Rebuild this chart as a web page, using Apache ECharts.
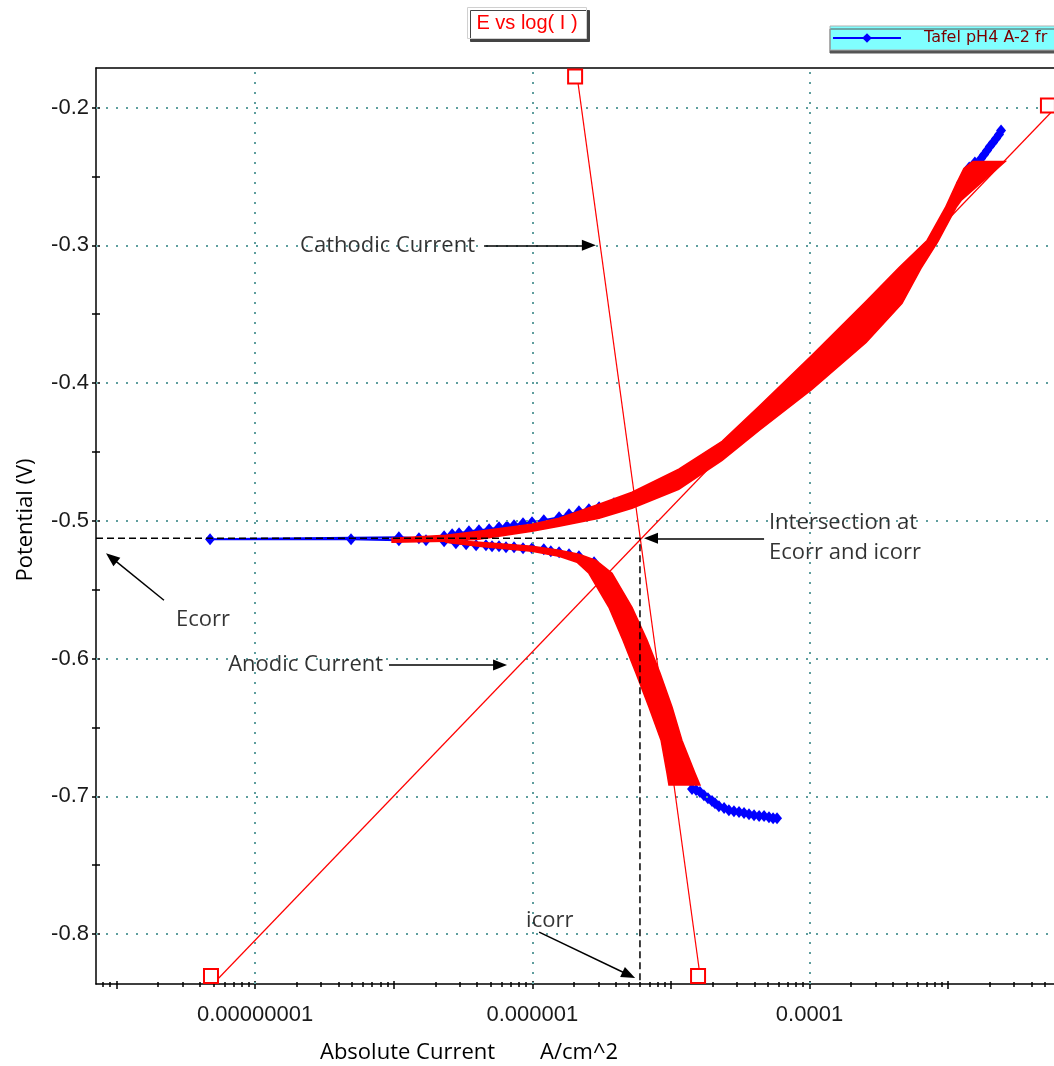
<!DOCTYPE html>
<html><head><meta charset="utf-8">
<script src="https://cdn.jsdelivr.net/npm/echarts@6/dist/echarts.min.js"></script>
<style>html,body{margin:0;padding:0;background:#fff}#c{width:1054px;height:1066px}</style>
</head><body><div id="c"></div><script>
// ---------- data (current in A/cm^2, potential in V) ----------
const scanCurrent = [5.83e-5,5.46e-5,5.10e-5,4.70e-5,4.33e-5,3.98e-5,3.66e-5,3.37e-5,3.10e-5,2.85e-5,2.62e-5,2.42e-5,2.22e-5,2.08e-5,1.98e-5,1.85e-5,1.73e-5,1.62e-5,1.52e-5,1.42e-5,
  1.29e-5,1.04e-5,8.77e-6,7.18e-6,5.80e-6,4.51e-6,3.82e-6,3.18e-6,2.79e-6,2.17e-6,1.84e-6,1.56e-6,1.36e-6,1.21e-6,9.95e-7,8.57e-7,7.38e-7,6.46e-7,5.75e-7,5.12e-7,4.63e-7,3.93e-7,3.33e-7,2.81e-7,2.31e-7,1.71e-7,1.09e-7,4.92e-8,4.73e-9,
  1.09e-7,1.52e-7,2.31e-7,2.64e-7,2.96e-7,3.49e-7,4.12e-7,4.88e-7,5.75e-7,6.56e-7,7.38e-7,8.57e-7,9.95e-7,1.21e-6,1.56e-6,1.84e-6,2.17e-6,2.56e-6,3.03e-6,3.88e-6,5.42e-6,8.20e-6,1.18e-5,2.42e-5,4.47e-5,1.08e-4,2.69e-4,4.81e-4,7.54e-4,1.03e-3,1.24e-3,1.42e-3,1.56e-3,1.73e-3,1.82e-3,1.91e-3,2.00e-3,2.11e-3,2.22e-3,2.33e-3,2.41e-3];
const scanPotential = [-0.7159,-0.7159,-0.7152,-0.7144,-0.7144,-0.7137,-0.7130,-0.7122,-0.7115,-0.7108,-0.7101,-0.7086,-0.7072,-0.7050,-0.7035,-0.7014,-0.6992,-0.6970,-0.6955,-0.6948,
  -0.6832,-0.6593,-0.6353,-0.6106,-0.5867,-0.5628,-0.5504,-0.5381,-0.5301,-0.5258,-0.5243,-0.5229,-0.5221,-0.5207,-0.5200,-0.5200,-0.5192,-0.5192,-0.5185,-0.5185,-0.5178,-0.5178,-0.5171,-0.5163,-0.5149,-0.5142,-0.5142,-0.5134,-0.5134,
  -0.5120,-0.5127,-0.5113,-0.5098,-0.5091,-0.5076,-0.5069,-0.5062,-0.5047,-0.5040,-0.5033,-0.5018,-0.5011,-0.4996,-0.4975,-0.4953,-0.4931,-0.4916,-0.4902,-0.4873,-0.4837,-0.4757,-0.4677,-0.4474,-0.4227,-0.3865,-0.3473,-0.3219,-0.2994,-0.2726,-0.2544,-0.2435,-0.2399,-0.2370,-0.2341,-0.2312,-0.2283,-0.2254,-0.2225,-0.2196,-0.2167];

// red highlighted band, anodic-potential branch (outline)
const bandUpperCurrent = [9.73e-8,2.38e-7,4.12e-7,9.95e-7,1.56e-6,3.03e-6,5.24e-6,1.14e-5,2.34e-5,4.33e-5,1.04e-4,2.56e-4,4.43e-4,7.05e-4,9.66e-4,1.14e-3,1.30e-3,1.51e-3,
  2.58e-3,1.24e-3,1.14e-3,8.45e-4,6.37e-4,4.65e-4,2.56e-4,1.04e-4,4.33e-5,2.34e-5,1.14e-5,5.24e-6,3.03e-6,1.56e-6,9.95e-7,4.12e-7,2.38e-7,9.73e-8];
const bandUpperPotential = [-0.5127,-0.5105,-0.5076,-0.5025,-0.4982,-0.4880,-0.4793,-0.4626,-0.4423,-0.4169,-0.3799,-0.3407,-0.3161,-0.2965,-0.2718,-0.2559,-0.2443,-0.2392,
  -0.2392,-0.2675,-0.2726,-0.2972,-0.3168,-0.3422,-0.3705,-0.4046,-0.4344,-0.4561,-0.4771,-0.4909,-0.4982,-0.5040,-0.5076,-0.5134,-0.5149,-0.5156];
// red highlighted band, cathodic-potential branch (outline)
const bandLowerCurrent = [2.38e-7,4.12e-7,9.95e-7,1.56e-6,2.10e-6,2.56e-6,3.57e-6,4.51e-6,5.60e-6,6.95e-6,8.49e-6,9.37e-6,9.68e-6,
  1.62e-5,1.49e-5,1.20e-5,1.02e-5,8.34e-6,6.73e-6,5.24e-6,3.76e-6,2.88e-6,2.17e-6,1.56e-6,9.95e-7,4.12e-7,2.38e-7];
const bandLowerPotential = [-0.5156,-0.5185,-0.5221,-0.5258,-0.5301,-0.5381,-0.5628,-0.5867,-0.6106,-0.6353,-0.6593,-0.6832,-0.6919,
  -0.6919,-0.6832,-0.6593,-0.6353,-0.6106,-0.5867,-0.5628,-0.5381,-0.5287,-0.5243,-0.5214,-0.5185,-0.5156,-0.5142];

// Tafel fit lines
const anodicFitCurrent = [5.05e-9, 5.52e-3];
const anodicFitPotential = [-0.8356, -0.2036];
const cathodicFitCurrent = [2.14e-6, 1.65e-5];
const cathodicFitPotential = [-0.1826, -0.8356];

// corrosion point
const ECORR = -0.5127;
const ICORR = 5.98e-6;

// annotations
const annoText = ['Cathodic Current','Anodic Current','Intersection at\nEcorr and icorr','Ecorr','icorr'];
const annoCurrent = [3.86e-7, 8.38e-8, 5.10e-5, 2.69e-9, 9.02e-7];
const annoPotential = [-0.300, -0.6048, -0.5120, -0.5722, -0.7906];
const annoAlign = ['right','right','left','left','left'];
const arrowFromCurrent = [4.49e-7, 4.70e-5, 2.20e-9, 9.25e-8, 1.12e-6];
const arrowFromPotential = [-0.300, -0.5127, -0.5577, -0.6048, -0.7986];
const arrowToCurrent = [2.56e-6, 7.18e-6, 9.19e-10, 5.85e-7, 4.97e-6];
const arrowToPotential = [-0.300, -0.5127, -0.5268, -0.6048, -0.8298];

// ticks
const xLabelCurrents = [1e-8, 1e-6, 1e-4];
const xLabelTexts = ['0.00000001','0.000001','0.0001'];
const yLabelValues = [-0.8,-0.7,-0.6,-0.5,-0.4,-0.3,-0.2];
const yTickValues = [-0.8,-0.75,-0.7,-0.65,-0.6,-0.55,-0.5,-0.45,-0.4,-0.35,-0.3,-0.25,-0.2];

// ---------- chart ----------
const LMIN = -9.148, LMAX = -2.236;
const EMIN = -0.8363, EMAX = -0.1713;
const lg = v => Math.log10(v);
const pairs = (I, E) => I.map((v, i) => [lg(v), E[i]]);

const majorDec = [-9,-8,-7,-6,-5,-4,-3];
const minorDec = [];
for (let n = -10; n <= -3; n++) for (let k = 2; k <= 9; k++) {
  const v = n + Math.log10(k);
  if (v > LMIN && v < LMAX) minorDec.push(v);
}
const xLabelLogs = xLabelCurrents.map(lg);
const xFmt = v => { const i = xLabelLogs.findIndex(t => Math.abs(t - v) < 1e-6); return i >= 0 ? xLabelTexts[i] : ''; };

const tickFont = { fontFamily: "'Liberation Sans', Arial, sans-serif", fontSize: 22, color: '#1a1a1a' };
const annoFont = "'Open Sans', 'DejaVu Sans', sans-serif";
const black = { color: '#000', width: 1.5 };

function xAx(extra) {
  return Object.assign({ type: 'value', min: LMIN, max: LMAX, position: 'bottom',
    axisLine: { show: false, onZero: false }, axisLabel: { show: false }, splitLine: { show: false } }, extra);
}
function yAx(extra) {
  return Object.assign({ type: 'value', min: EMIN, max: EMAX, position: 'left',
    axisLine: { show: false, onZero: false }, axisLabel: { show: false }, splitLine: { show: false } }, extra);
}

function band(name, I, E) {
  const data = pairs(I, E);
  return { type: 'custom', name, xAxisIndex: 0, yAxisIndex: 0, z: 6, silent: true, clip: true,
    data, encode: { x: 0, y: 1 },
    renderItem: (params, api) => {
      if (params.dataIndex !== 0) return null;
      return { type: 'polygon', shape: { points: data.map(p => api.coord(p)) },
        style: { fill: '#ff0000', stroke: '#ff0000', lineWidth: 1.5 } };
    } };
}
function fitLine(name, I, E) {
  return { type: 'line', name, data: pairs(I, E), z: 8, silent: true,
    symbol: 'emptyRect', symbolSize: 14, symbolOffset: [-3, -7], showSymbol: true,
    lineStyle: { color: '#ff0000', width: 1.2 }, itemStyle: { color: '#ff0000', borderWidth: 1.5 } };
}

const chart = echarts.init(document.getElementById('c'), null, { renderer: 'canvas' });
chart.setOption({
  animation: false,
  backgroundColor: '#fff',
  title: { text: 'E vs log( I )', left: 'center', top: 7, padding: [6, 9],
    backgroundColor: '#fff', borderColor: '#d0d0d0', borderWidth: 1,
    shadowColor: '#444', shadowOffsetX: 3, shadowOffsetY: 3, shadowBlur: 0,
    textStyle: { color: '#ff0000', fontFamily: "'Liberation Sans', Arial, sans-serif", fontSize: 20, fontWeight: 'normal' } },
  legend: { data: ['Tafel pH4 A-2 fr'], left: 830, top: 26, backgroundColor: '#80ffff',
    borderColor: '#b0b0b0', borderWidth: 1, padding: [4, 60, 4, 2], itemWidth: 68, itemHeight: 12,
    shadowColor: '#555', shadowOffsetY: 3, shadowOffsetX: 0, shadowBlur: 0,
    textStyle: { color: '#7a0000', fontFamily: "'DejaVu Sans', sans-serif", fontSize: 16, padding: [0, 0, 0, 18] } },
  grid: { left: 96, right: 0, top: 68, bottom: 82, containLabel: false },
  xAxis: [
    xAx({ axisLine: { show: true, onZero: false, lineStyle: black },
      axisTick: { show: true, customValues: majorDec, length: 5, inside: false, lineStyle: black },
      axisLabel: { show: true, customValues: xLabelLogs, formatter: xFmt, margin: 20, ...tickFont } }),
    xAx({ axisTick: { show: true, customValues: majorDec, length: 3, inside: true, lineStyle: black } }),
    xAx({ axisTick: { show: true, customValues: minorDec, length: 3, inside: false, lineStyle: black } }),
    xAx({ axisTick: { show: true, customValues: minorDec, length: 2, inside: true, lineStyle: black } }),
    xAx({ position: 'top', axisLine: { show: true, onZero: false, lineStyle: black }, axisTick: { show: false } })
  ],
  yAxis: [
    yAx({ axisLine: { show: true, onZero: false, lineStyle: black },
      axisTick: { show: true, customValues: yTickValues, length: 4, inside: false, lineStyle: black },
      axisLabel: { show: true, customValues: yLabelValues, formatter: v => v.toFixed(1), margin: 7, ...tickFont } }),
    yAx({ axisTick: { show: true, customValues: yTickValues, length: 4, inside: true, lineStyle: black } })
  ],
  graphic: [
    { type: 'text', x: 26, y: 520, rotation: Math.PI / 2, z: 10,
      style: { text: 'Potential (V)', fill: '#000', font: "22px 'Open Sans', sans-serif", textAlign: 'center', textVerticalAlign: 'middle' } },
    { type: 'text', x: 320, y: 1053, z: 10,
      style: { text: 'Absolute Current', fill: '#000', font: "22px 'Open Sans', sans-serif", textAlign: 'left', textVerticalAlign: 'middle' } },
    { type: 'text', x: 540, y: 1053, z: 10,
      style: { text: 'A/cm^2', fill: '#000', font: "22px 'Open Sans', sans-serif", textAlign: 'left', textVerticalAlign: 'middle' } }
  ],
  series: [
    { type: 'line', name: 'gridlines', data: [], z: 1, silent: true,
      markLine: { silent: true, symbol: 'none', animation: false, label: { show: false },
        lineStyle: { color: '#5f9e9e', type: [2, 8], width: 2 },
        data: [...yLabelValues.map(v => ({ yAxis: v })), ...xLabelLogs.map(v => ({ xAxis: v }))] } },
    { type: 'line', name: 'Tafel pH4 A-2 fr', data: pairs(scanCurrent, scanPotential), z: 4,
      symbol: 'diamond', symbolSize: [10, 12], showSymbol: true, showAllSymbol: true,
      lineStyle: { color: '#0000ff', width: 2 }, itemStyle: { color: '#0000ff' } },
    band('band anodic', bandUpperCurrent, bandUpperPotential),
    band('band cathodic', bandLowerCurrent, bandLowerPotential),
    fitLine('anodic fit', anodicFitCurrent, anodicFitPotential),
    fitLine('cathodic fit', cathodicFitCurrent, cathodicFitPotential),
    { type: 'line', name: 'Ecorr/icorr', z: 9, silent: true, symbol: 'none',
      data: [[LMIN, ECORR], [lg(ICORR), ECORR], [lg(ICORR), EMIN]],
      lineStyle: { color: '#000', width: 1.5, type: [7, 4] } },
    { type: 'scatter', name: 'annotations', z: 12, silent: true, symbolSize: 0,
      data: annoText.map((t, i) => ({ value: [lg(annoCurrent[i]), annoPotential[i]],
        label: { align: annoAlign[i] } })),
      label: { show: true, position: 'inside', formatter: p => annoText[p.dataIndex],
        color: '#000', fontFamily: annoFont, fontSize: 22, lineHeight: 30, verticalAlign: 'middle' },
      markLine: { silent: true, symbol: ['none', 'triangle'], symbolSize: [11, 14], animation: false,
        label: { show: false }, lineStyle: { color: '#000', width: 1.5, type: 'solid' },
        data: arrowFromCurrent.map((v, i) => [
          { coord: [lg(v), arrowFromPotential[i]] },
          { coord: [lg(arrowToCurrent[i]), arrowToPotential[i]] }]) } }
  ]
});
</script></body></html>
